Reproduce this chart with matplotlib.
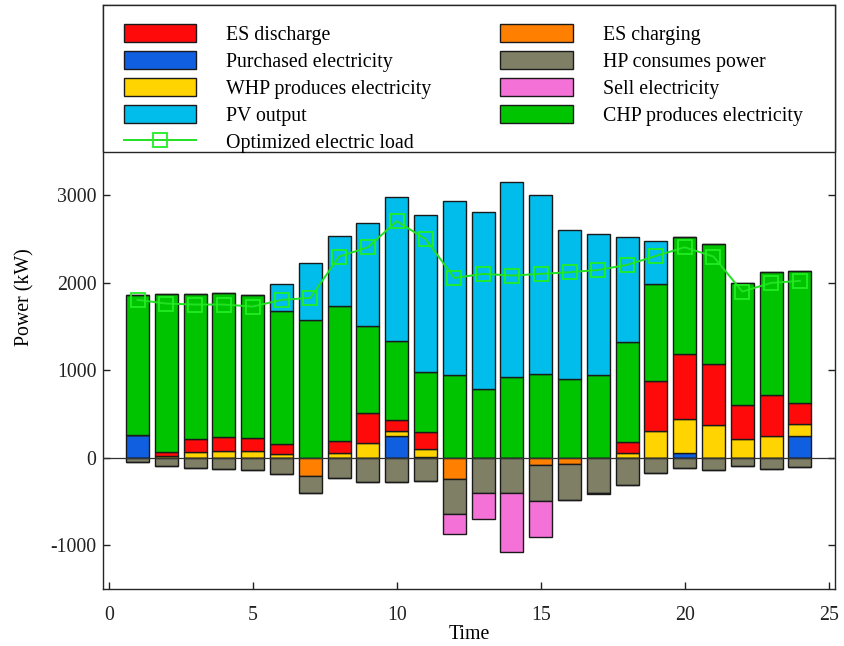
import numpy as np
import matplotlib.pyplot as plt
from matplotlib.patches import Rectangle

plt.rcParams['font.family'] = ['Liberation Serif', 'DejaVu Serif']
plt.rcParams['font.size'] = 14.3
plt.rcParams['axes.unicode_minus'] = False

# hourly power balance (kW)
hours = np.arange(1, 25)
purchased = [255, 0, 0, 0, 0, 0, 0, 0, 0, 245, 10, 0, 0, 0, 0, 0, 0, 0, 0, 50, 0, 0, 0, 247]
whp = [0, 20, 68, 80, 76, 46, 0, 57, 171, 60, 93, 0, 0, 0, 0, 0, 0, 57, 300, 390, 373, 209, 247, 133]
es_discharge = [0, 45, 145, 152, 148, 106, 0, 129, 338, 128, 190, 0, 0, 0, 0, 0, 0, 122, 578, 742, 699, 388, 464, 247]
chp = [1604, 1800, 1654, 1643, 1635, 1525, 1574, 1548, 997, 894, 680, 947, 779, 920, 951, 894, 943,
       1140, 1111, 1338, 1369, 1399, 1414, 1502]
pv = [0, 0, 0, 0, 0, 312, 650, 798, 1171, 1654, 1803, 1981, 2023, 2228, 2053, 1707, 1612, 1198, 486,
      0, 0, 0, 0, 0]
es_charging = [0, 0, 0, 0, 0, 0, 209, 0, 0, 0, 0, 247, 0, 0, 87, 76, 0, 0, 0, 0, 0, 0, 0, 0]
hp = [55, 100, 114, 125, 137, 190, 190, 236, 274, 281, 266, 399, 399, 403, 403, 403, 400, 316, 179,
      122, 141, 95, 129, 110]
sell = [0, 0, 0, 0, 0, 0, 0, 0, 0, 0, 0, 228, 304, 669, 411, 0, 15, 0, 0, 0, 0, 0, 0, 0]
load = [1802, 1760, 1749, 1749, 1726, 1802, 1825, 2297, 2403, 2700, 2498, 2053, 2099, 2080, 2099,
        2118, 2144, 2202, 2304, 2403, 2297, 1897, 1996, 2019]

colors = {
    'es_dis': '#FF0A0A', 'buy': '#0F5FE0', 'whp': '#FFD400', 'pv': '#00BDEB',
    'es_ch': '#FF8000', 'hp': '#7F7F66', 'sell': '#F472D8', 'chp': '#00C400',
}

fig = plt.figure(figsize=(8.45, 6.46), dpi=100)
ax = fig.add_axes([0.1222, 0.0882, 0.8660, 0.9041])

w = 0.8
kw = dict(width=w, edgecolor='#1a1a1a', linewidth=1.0, zorder=2)

# positive side
bottom = np.zeros(24)
b_buy = ax.bar(hours, purchased, bottom=bottom, color=colors['buy'], **kw)
bottom += purchased
b_whp = ax.bar(hours, whp, bottom=bottom, color=colors['whp'], **kw)
bottom += whp
b_dis = ax.bar(hours, es_discharge, bottom=bottom, color=colors['es_dis'], **kw)
bottom += es_discharge
b_chp = ax.bar(hours, chp, bottom=bottom, color=colors['chp'], **kw)
bottom += chp
b_pv = ax.bar(hours, pv, bottom=bottom, color=colors['pv'], **kw)

# negative side
neg = np.zeros(24)
b_ch = ax.bar(hours, -np.array(es_charging), bottom=neg, color=colors['es_ch'], **kw)
neg -= es_charging
b_hp = ax.bar(hours, -np.array(hp), bottom=neg, color=colors['hp'], **kw)
neg -= hp
b_sell = ax.bar(hours, -np.array(sell), bottom=neg, color=colors['sell'], **kw)

ax.axhline(0, color='#333333', linewidth=0.9, zorder=3)

ln, = ax.plot(hours, load, color='#22E022', linewidth=1.4, marker='s', markersize=9.5,
              markerfacecolor='none', markeredgecolor='#22EE22', markeredgewidth=1.3, zorder=4)

ax.set_xlim(-0.19, 25.22)
ax.set_ylim(-1500, 5170)
ax.set_xticks([0, 5, 10, 15, 20, 25])
ax.set_yticks([-1000, 0, 1000, 2000, 3000])
ax.tick_params(direction='in', length=5, width=1, right=True, top=True, colors='#222222')
ax.tick_params(axis='x', pad=12)
ax.tick_params(axis='y', pad=5)
for s in ax.spines.values():
    s.set_color('#262626')
    s.set_linewidth(1.0)

ax.set_xlabel('Time', labelpad=0)
ax.set_ylabel('Power (kW)', labelpad=11)

# legend panel across the top of the axes
ax.add_patch(Rectangle((0, 0.748), 1, 0.252, transform=ax.transAxes, facecolor='white',
                       edgecolor='#262626', linewidth=1.0, zorder=4.5, clip_on=False))

handles = [b_dis, b_buy, b_whp, b_pv, ln, b_ch, b_hp, b_sell, b_chp]
labels = ['ES discharge', 'Purchased electricity', 'WHP produces electricity', 'PV output',
          'Optimized electric load', 'ES charging', 'HP consumes power', 'Sell electricity',
          'CHP produces electricity']
leg = ax.legend(handles, labels, ncol=2, loc='upper left', bbox_to_anchor=(0.0277, 0.967),
                frameon=False, borderpad=0, borderaxespad=0, handlelength=3.67, handleheight=1.0,
                handletextpad=1.5, labelspacing=0.32, columnspacing=3.47)
leg.set_zorder(6)

fig.savefig('out.png', dpi=100)
